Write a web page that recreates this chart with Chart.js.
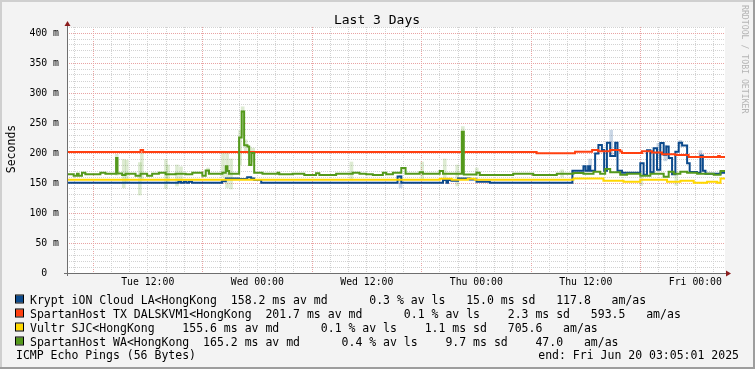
<!DOCTYPE html>
<html><head><meta charset="utf-8">
<script src="https://cdn.jsdelivr.net/npm/chart.js@4.4.1/dist/chart.umd.min.js"></script>
<style>html,body{margin:0;padding:0;background:#f3f3f3;overflow:hidden}#wrap{position:relative;width:755px;height:369px}canvas{display:block}</style>
</head><body><div id="wrap"><canvas id="c" width="755" height="369"></canvas></div>
<script>
// ---- data (time = hours since Tue 00:00, value = ms) ----
const xLabelHours = [12, 24, 36, 48, 60, 72];
const xLabels = ["Tue 12:00", "Wed 00:00", "Wed 12:00", "Thu 00:00", "Thu 12:00", "Fri 00:00"];
const yLabelValues = [0, 50, 100, 150, 200, 250, 300, 350, 400];
const yLabels = ["0  ", "50 m", "100 m", "150 m", "200 m", "250 m", "300 m", "350 m", "400 m"];

const names = ["Krypt iON Cloud LA<HongKong", "SpartanHost TX DALSKVM1<HongKong", "Vultr SJC<HongKong", "SpartanHost WA<HongKong"];
const legendStats = [
  "158.2 ms av md      0.3 % av ls   15.0 ms sd   117.8   am/as",
  "201.7 ms av md      0.1 % av ls    2.3 ms sd   593.5   am/as",
  "155.6 ms av md      0.1 % av ls    1.1 ms sd   705.6   am/as",
  "165.2 ms av md      0.4 % av ls    9.7 ms sd    47.0   am/as"
];
const namePad = [2, 2, 4, 2];

const kryptSteps = [[3.00,150.5],[15.36,152.2],[15.64,150.5],[15.97,152.2],[16.24,150.5],[16.52,152.2],[16.85,150.5],
  [20.14,152.8],[20.55,157.3],[22.01,156.5],[22.89,159.5],[23.33,157.3],[23.66,155],[24.43,150.5],
  [39.37,161],[39.78,150.5],[44.35,155],[44.73,150.5],[44.90,155],[45.27,153.9],[46.0,157.5],[47.29,156],[48.02,152.2],[49.48,150.5],
  [58.53,170.4],[59.74,177.8],[59.98,170.4],[60.25,177.8],[60.47,170.4],[61.02,199],[61.38,213.5],[61.76,205],[62.01,170.4],
  [62.31,217],[62.67,195],[63.22,217],[63.47,170.4],[63.96,167.2],[65.97,183],[66.33,163.9],[66.70,204.4],[67.07,167.8],
  [67.43,208],[67.80,172],[68.16,216.7],[68.53,197],[68.82,211],[69.08,191.6],[69.45,164.4],[69.81,202],[70.18,217],
  [70.55,212.5],[71.10,183],[71.38,168.3],[72.20,166.7],[72.56,196],[72.82,170.4],[73.11,165.5],[74.76,167.2],[75.25,167.2]];
const kryptSmoke = [[39.70,142,163],[60.47,170,190],[62.78,194,238],[67.95,190,216],[68.71,187,213],[70.36,210,221],[72.56,196,204]];

const txSteps = [[3.00,201.6],[11.21,205],[11.49,201.6],[54.61,199.7],[58.82,202],[60.69,205],[61.35,203],[62.67,205],
  [63.77,202.5],[63.96,200],[66.15,203],[67.25,201],[68.35,198],[69.81,196.5],[71.27,193.3],[74.50,195],[74.68,193.3],[75.25,193.3]];

const vultrSteps = [[3.00,155.5],[43.99,157],[45.31,155.5],[47.07,157],[47.84,155.5],[58.64,157.7],[61.93,153.9],[64.13,152.2],
  [65.97,155.5],[68.90,152.2],[70.36,153.9],[71.82,150.5],[73.29,152.2],[74.39,150.5],[74.76,157.7],[75.25,157.7]];

const waSteps = [[3.00,164.6],[3.88,162.2],[4.24,165.5],[4.43,162.2],[4.79,167.2],[5.16,164.6],[6.81,167.2],[7.36,165.5],
  [8.53,191.6],[8.68,166],[9.19,163.5],[9.56,165.5],[10.66,162.2],[11.21,165.5],[11.93,162.2],[12.48,165.5],[13.22,167.2],
  [13.96,164.6],[15.05,165.5],[16.15,164.6],[16.88,167.2],[17.98,162.2],[18.35,171],[18.71,165.5],[20.18,167.2],[20.55,177.8],
  [20.73,170],[20.91,165.5],[22.01,226],[22.29,269],[22.56,213],[22.92,211],[23.11,180],[23.36,200],[23.66,167.2],[24.57,165.5],
  [26.22,167.2],[26.41,164.6],[27.87,165.5],[29.15,163.5],[30.44,166.1],[30.80,163.5],[32.64,165.5],[34.46,167.2],[35.20,165.5],
  [35.93,164.6],[36.66,163.5],[37.76,167.2],[38.13,164.6],[38.86,167.2],[39.78,175],[40.25,165.5],[41.79,168],[42.15,165.5],
  [43.99,170],[44.35,165.5],[46.41,235.6],[46.63,164],[48.02,167],[48.38,163.5],[52.04,165.5],[54.24,163.5],[56.82,165.5],
  [58.64,166.7],[59.74,165.5],[60.84,168.9],[61.57,165.5],[62.12,173.5],[62.67,167.8],[63.77,163.9],[64.51,165.5],[65.97,162.2],
  [67.07,165.5],[68.53,160.6],[69.08,168.9],[69.63,165.5],[70.36,168.9],[71.10,167.2],[72.20,165.5],[74.02,163.9],[74.76,170],[75.25,170]];
const waSmoke = [[8.60,163,198],[9.37,142,189],[9.70,150,188],[11.13,130,184],[11.35,155,200],[13.99,141,189],[14.21,150,180],
  [15.20,145,180],[15.64,150,177],[18.60,165,175],[20.25,160,203],[20.69,142,200],[21.13,140,190],[22.12,180,238],[22.40,230,277],
  [22.73,200,222],[23.16,190,210],[23.55,185,208],[34.32,155,185],[42.07,157,185],[44.54,153,190],[45.91,145,180],[46.52,236,244],
  [48.05,163,175],[57.4,160,172],[66.08,146,165],[69.92,146,170]];

// ---- styling ----
const lineColors = ["#0c4a8c", "#ff4010", "#ffd800", "#54991c"];
const smokeColors = ["rgba(12,74,140,0.22)", "rgba(255,64,16,0.2)", "rgba(255,220,20,0.25)", "rgba(84,153,28,0.2)"];
const lineOrder = [3, 2, 1, 0];
const allSteps = [kryptSteps, txSteps, vultrSteps, waSteps];
const allSmoke = [kryptSmoke, [], [], waSmoke];

const MONO = '"DejaVu Sans Mono", "Liberation Mono", monospace';
const xGrid = [];
for (let h = 4; h <= 74; h += 2) xGrid.push(h);
const yGrid = [];
for (let v = 0; v <= 410; v += 10) yGrid.push(v);

const datasets = [];
allSmoke.forEach((sm, i) => {
  if (!sm.length) return;
  datasets.push({type: 'bar', data: sm.map(([t, lo, hi]) => ({x: t, y: [lo, hi]})),
    backgroundColor: smokeColors[i], borderWidth: 0, barThickness: 3, grouped: false, order: 10 + i});
});
allSteps.forEach((st, i) => {
  datasets.push({type: 'line', data: st.map(([t, v]) => ({x: t, y: v})), borderColor: lineColors[i],
    borderWidth: 2, stepped: 'before', pointRadius: 0, fill: false, order: lineOrder[i]});
});

const frame = {
  id: 'frame',
  beforeDraw(chart) {
    const {ctx, chartArea: a} = chart;
    ctx.save();
    ctx.fillStyle = '#f3f3f3';
    ctx.fillRect(0, 0, 755, 369);
    ctx.fillStyle = '#cfcfcf';
    ctx.fillRect(0, 0, 755, 2);
    ctx.fillRect(0, 0, 2, 369);
    ctx.fillStyle = '#9d9d9d';
    ctx.fillRect(0, 367, 755, 2);
    ctx.fillRect(753, 0, 2, 369);
    ctx.fillStyle = '#ffffff';
    ctx.fillRect(a.left, a.top, a.right - a.left, a.bottom - a.top);
    ctx.restore();
  },
  afterDraw(chart) {
    const {ctx, chartArea: a} = chart;
    ctx.save();
    // axes
    ctx.strokeStyle = '#6e6e6e';
    ctx.lineWidth = 1;
    ctx.beginPath();
    ctx.moveTo(a.left + 0.5, a.bottom + 3);
    ctx.lineTo(a.left + 0.5, a.top - 4);
    ctx.moveTo(a.left - 3, a.bottom + 0.5);
    ctx.lineTo(a.right + 2, a.bottom + 0.5);
    ctx.stroke();
    ctx.fillStyle = '#8b1c1c';
    ctx.beginPath();
    ctx.moveTo(a.left + 0.5, a.top - 6);
    ctx.lineTo(a.left + 3.5, a.top - 1);
    ctx.lineTo(a.left - 2.5, a.top - 1);
    ctx.closePath();
    ctx.fill();
    ctx.beginPath();
    ctx.moveTo(a.right + 6, a.bottom + 0.5);
    ctx.lineTo(a.right + 1, a.bottom + 3.5);
    ctx.lineTo(a.right + 1, a.bottom - 2.5);
    ctx.closePath();
    ctx.fill();
    // title
    ctx.fillStyle = '#000';
    ctx.font = '13px ' + MONO;
    ctx.textAlign = 'center';
    ctx.textBaseline = 'alphabetic';
    ctx.fillText('Last 3 Days', 377, 24);
    // y title
    ctx.font = '11.5px ' + MONO;
    ctx.save();
    ctx.translate(15, 149);
    ctx.rotate(-Math.PI / 2);
    ctx.fillText('Seconds', 0, 0);
    ctx.restore();
    // watermark
    ctx.save();
    ctx.fillStyle = '#b4b4b4';
    ctx.font = '8.2px ' + MONO;
    ctx.translate(742, 5);
    ctx.rotate(Math.PI / 2);
    ctx.textAlign = 'left';
    ctx.fillText('RRDTOOL / TOBI OETIKER', 0, 0);
    ctx.restore();
    // legend
    ctx.font = '11.5px ' + MONO;
    ctx.textAlign = 'left';
    names.forEach((n, i) => {
      const y = 303.5 + 14 * i;
      ctx.fillStyle = lineColors[i];
      ctx.fillRect(16, y - 8, 7, 7);
      ctx.strokeStyle = '#000';
      ctx.lineWidth = 1;
      ctx.strokeRect(15.5, y - 8.5, 8, 8);
      ctx.fillStyle = '#000';
      ctx.fillText(n + ' '.repeat(namePad[i]) + legendStats[i], 30, y);
    });
    ctx.fillText('ICMP Echo Pings (56 Bytes)', 16, 359);
    ctx.textAlign = 'right';
    ctx.fillText('end: Fri Jun 20 03:05:01 2025', 739, 359);
    ctx.restore();
  }
};

new Chart(document.getElementById('c'), {
  type: 'line',
  data: {datasets},
  plugins: [frame],
  options: {
    responsive: false, animation: false, devicePixelRatio: 1,
    layout: {padding: {left: 0, right: 30, top: 27, bottom: 0}},
    plugins: {legend: {display: false}, tooltip: {enabled: false}, title: {display: false}},
    scales: {
      x: {
        type: 'linear', min: 3.15, max: 75.25, offset: false,
        afterBuildTicks: s => { s.ticks = xGrid.map(v => ({value: v})); },
        afterFit: s => { s.height = 96; },
        grid: {offset: false, drawTicks: false, lineWidth: 1,
          color: c => (c.tick && c.tick.value % 12 === 6) ? '#e9a3a3' : '#d2d2d2'},
        border: {display: false, dash: [1, 1]},
        ticks: {autoSkip: false, maxRotation: 0, minRotation: 0, padding: 4, color: '#000',
          font: {family: MONO, size: 9.8},
          callback: v => { const k = xLabelHours.indexOf(v); return k >= 0 ? xLabels[k] : ''; }}
      },
      y: {
        type: 'linear', min: 0, max: 410,
        afterBuildTicks: s => { s.ticks = yGrid.map(v => ({value: v})); },
        afterFit: s => { s.width = 67; },
        grid: {drawTicks: false, lineWidth: 1,
          color: c => (c.tick && c.tick.value % 50 === 0 && c.tick.value > 0) ? '#e9a3a3' : '#d2d2d2'},
        border: {display: false, dash: [1, 1]},
        ticks: {autoSkip: false, padding: 8, color: '#000', font: {family: MONO, size: 9.8},
          callback: v => { const k = yLabelValues.indexOf(v); return k >= 0 ? yLabels[k] : ''; }}
      }
    }
  }
});
</script>
</body></html>
